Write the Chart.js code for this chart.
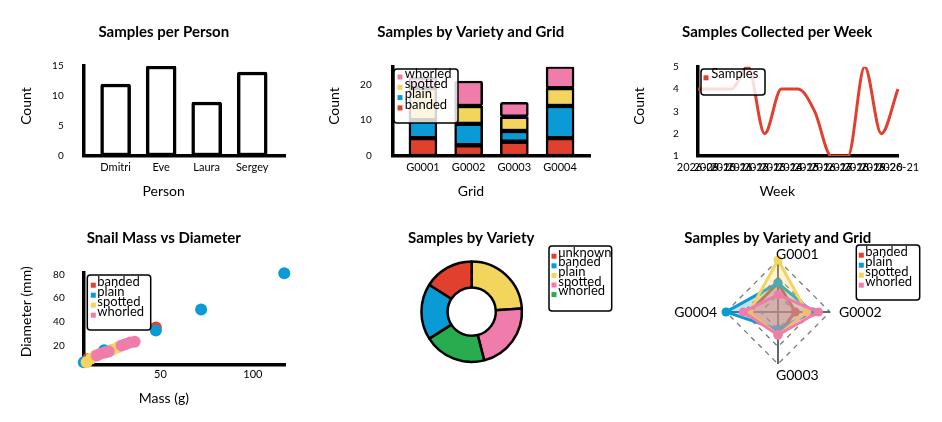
<!DOCTYPE html>
<html><head><meta charset="utf-8">
<script src="https://cdn.jsdelivr.net/npm/chart.js@4"></script>
<style>
html,body{margin:0;padding:0;background:#fff;width:942px;height:422px;overflow:hidden}
.cell{position:absolute;width:314px;height:211px}
canvas{display:block}
</style></head><body>
<div class="cell" style="left:0;top:0"><canvas id="c1" width="314" height="211"></canvas></div>
<div class="cell" style="left:314px;top:0"><canvas id="c2" width="314" height="211"></canvas></div>
<div class="cell" style="left:628px;top:0"><canvas id="c3" width="314" height="211"></canvas></div>
<div class="cell" style="left:0;top:211px"><canvas id="c4" width="314" height="211"></canvas></div>
<div class="cell" style="left:314px;top:211px"><canvas id="c5" width="314" height="211"></canvas></div>
<div class="cell" style="left:628px;top:211px"><canvas id="c6" width="314" height="211"></canvas></div>
<script>
// ---------- data ----------
const persons = ['Dmitri', 'Eve', 'Laura', 'Sergey'];
const personCounts = [12, 15, 9, 14];

const grids = ['G0001', 'G0002', 'G0003', 'G0004'];
const varieties = ['banded', 'plain', 'spotted', 'whorled'];
const bandedByGrid = [5, 3, 4, 5];
const plainByGrid = [5, 6, 3, 9];
const spottedByGrid = [9, 5, 4, 5];
const whorledByGrid = [3, 7, 4, 6];

const weeks = ['2026-09', '2026-10', '2026-11', '2026-12', '2026-13', '2026-14', '2026-15',
               '2026-16', '2026-17', '2026-18', '2026-19', '2026-20', '2026-21'];
const weeklyCounts = [4, 4, 4, 5, 2, 4, 4, 3, 1, 1, 5, 2, 4];

const bandedMass = [10.5, 47.5];
const bandedDiam = [9, 35.5];
const plainMass = [8.5, 19.5, 47.5, 72, 117];
const plainDiam = [6.5, 16.5, 33, 50.5, 81];
const spottedMass = [10, 12.5, 15, 20, 24, 27];
const spottedDiam = [6.5, 9.5, 12, 14.5, 17, 19];
const whorledMass = [15.5, 17.5, 20, 22, 29, 31, 33.5, 36];
const whorledDiam = [12, 13.5, 14.5, 15.5, 20.5, 21.5, 23, 23.5];
const massTicks = [50, 100];
const diamTicks = [20, 40, 60, 80];

const pieLabels = ['unknown', 'banded', 'plain', 'spotted', 'whorled'];
const pieCounts = [8, 9, 12, 11, 10];

// ---------- style ----------
const FONT = 'Lato, "DejaVu Sans", sans-serif';
const RED = '#e2402e', BLUE = '#0a9ad6', YELLOW = '#f3d45c', PINK = '#f07cac', GREEN = '#27ad4f';
const varietyColors = {banded: RED, plain: BLUE, spotted: YELLOW, whorled: PINK};
const pieColors = {unknown: RED, banded: BLUE, plain: YELLOW, spotted: PINK, whorled: GREEN};
Chart.defaults.font.family = FONT;
Chart.defaults.color = '#000';
Chart.defaults.animation = false;

function rgba(hex, a) {
  const n = parseInt(hex.slice(1), 16);
  return `rgba(${n >> 16},${(n >> 8) & 255},${n & 255},${a})`;
}
const AXIS_BORDER = {display: true, color: '#000', width: 3.5};

// Chart / axis titles drawn as canvas text at given spots
const texts = {
  id: 'texts',
  afterDraw(chart, args, o) {
    if (!o || !o.items) return;
    const ctx = chart.ctx;
    ctx.save();
    ctx.fillStyle = '#000';
    ctx.textAlign = 'center';
    ctx.textBaseline = 'middle';
    o.items.forEach(t => {
      ctx.font = (t.bold ? 'bold ' : '') + t.size + 'px ' + FONT;
      ctx.save();
      ctx.translate(t.x, t.y);
      if (t.rot) ctx.rotate(-Math.PI / 2);
      ctx.fillText(t.text, 0, 0);
      ctx.restore();
    });
    ctx.restore();
  }
};
function titles(main, mx, my, xt, xx, xy, yt, yx, yy) {
  const items = [{text: main, x: mx, y: my, size: 15, bold: true}];
  if (xt) items.push({text: xt, x: xx, y: xy, size: 14});
  if (yt) items.push({text: yt, x: yx, y: yy, size: 14, rot: true});
  return {items};
}

// Legend box plugin
const boxLegend = {
  id: 'boxLegend',
  afterDraw(chart, args, o) {
    if (!o || !o.items) return;
    const ctx = chart.ctx;
    ctx.save();
    ctx.beginPath();
    if (ctx.roundRect) ctx.roundRect(o.x, o.y, o.w, o.h, 3); else ctx.rect(o.x, o.y, o.w, o.h);
    ctx.fillStyle = 'rgba(255,255,255,0.82)';
    ctx.fill();
    ctx.lineWidth = 1.5;
    ctx.strokeStyle = '#000';
    ctx.stroke();
    ctx.font = '13px ' + FONT;
    ctx.textBaseline = 'middle';
    ctx.textAlign = 'left';
    o.items.forEach((it, i) => {
      const y = o.firstY + i * o.step;
      ctx.fillStyle = it.color;
      ctx.fillRect(o.markerX - 2.5, y + 1, 5, 5);
      ctx.fillStyle = '#000';
      ctx.fillText(it.label, o.textX, y);
    });
    ctx.restore();
  }
};
// Radar point labels plugin
const radarLabels = {
  id: 'radarLabels',
  afterDraw(chart, args, o) {
    if (!o || !o.labels) return;
    const s = chart.scales.r, ctx = chart.ctx;
    ctx.save();
    ctx.font = '14px ' + FONT;
    ctx.fillStyle = '#000';
    ctx.textBaseline = 'middle';
    o.labels.forEach((lab, i) => {
      const p = s.getPointPosition(i, s.drawingArea);
      const dx = p.x - s.xCenter, dy = p.y - s.yCenter;
      if (Math.abs(dx) < Math.abs(dy)) {
        ctx.textAlign = 'left';
        ctx.fillText(lab, p.x - 2, dy < 0 ? p.y - 6 : p.y + 11);
      } else if (dx > 0) {
        ctx.textAlign = 'left';
        ctx.fillText(lab, p.x + 9, p.y);
      } else {
        ctx.textAlign = 'right';
        ctx.fillText(lab, p.x - 9, p.y);
      }
    });
    ctx.restore();
  }
};
Chart.register(boxLegend, radarLabels, texts);

const noLegend = {legend: {display: false}, tooltip: {enabled: false}, title: {display: false}};

// ---------- 1: Samples per Person ----------
new Chart(document.getElementById('c1'), {
  type: 'bar',
  data: {datasets: [{
    data: persons.map((p, i) => ({x: i, y: personCounts[i]})),
    backgroundColor: '#fff', borderColor: '#000', borderWidth: 3.5,
    borderSkipped: false, borderRadius: 2, barThickness: 30
  }]},
  options: {
    responsive: false,
    layout: {padding: {left: 0, right: 29, top: 66, bottom: 0}},
    plugins: Object.assign({
      texts: titles('Samples per Person', 163.8, 31.7, 'Person', 163.7, 191, 'Count', 26.7, 106)
    }, noLegend),
    scales: {
      x: {type: 'linear', offset: false, min: -0.71, max: 3.72,
          grid: {display: false}, border: AXIS_BORDER,
          afterBuildTicks: s => { s.ticks = persons.map((p, i) => ({value: i})); },
          ticks: {callback: v => persons[v], font: {size: 11}, padding: -3.5, autoSkip: false, maxRotation: 0},
          afterFit: s => { s.height = 55; }},
      y: {min: 0, max: 15, grid: {display: false}, border: AXIS_BORDER,
          ticks: {stepSize: 5, font: {size: 10}, padding: 11.6},
          afterFit: s => { s.width = 83.3; }}
    }
  }
});

// ---------- 2: Samples by Variety and Grid (stacked) ----------
const gridSeries = {banded: bandedByGrid, plain: plainByGrid, spotted: spottedByGrid, whorled: whorledByGrid};
new Chart(document.getElementById('c2'), {
  type: 'bar',
  data: {datasets: varieties.map(v => ({
    label: v,
    data: grids.map((g, i) => ({x: i, y: gridSeries[v][i]})),
    backgroundColor: varietyColors[v], borderColor: '#000', borderWidth: 2.5,
    borderSkipped: false, borderRadius: 2, barThickness: 28
  }))},
  options: {
    responsive: false,
    layout: {padding: {left: 0, right: 37.3, top: 66.7, bottom: 0}},
    plugins: Object.assign({
      texts: titles('Samples by Variety and Grid', 156.8, 31.7, 'Grid', 157, 191.3, 'Count', 20, 106),
      boxLegend: {x: 80, y: 69, w: 64, h: 54, textX: 90.7, markerX: 86, firstY: 73.5, step: 10.3,
        items: varieties.slice().reverse().map(v => ({label: v, color: varietyColors[v]}))}
    }, noLegend),
    scales: {
      x: {type: 'linear', offset: false, stacked: true, min: -0.67, max: 3.67,
          grid: {display: false}, border: AXIS_BORDER,
          afterBuildTicks: s => { s.ticks = grids.map((g, i) => ({value: i})); },
          ticks: {callback: v => grids[v], font: {size: 11}, padding: -3.5, autoSkip: false, maxRotation: 0},
          afterFit: s => { s.height = 55; }},
      y: {stacked: true, min: 0, max: 25, grid: {display: false}, border: AXIS_BORDER,
          afterBuildTicks: s => { s.ticks = [0, 10, 20].map(v => ({value: v})); },
          ticks: {font: {size: 10}, padding: 12.6},
          afterFit: s => { s.width = 78.3; }}
    }
  }
});

// ---------- 3: Samples Collected per Week ----------
new Chart(document.getElementById('c3'), {
  type: 'line',
  data: {labels: weeks, datasets: [{
    label: 'Samples', data: weeklyCounts,
    borderColor: RED, borderWidth: 3, pointRadius: 0, fill: false,
    cubicInterpolationMode: 'monotone'
  }]},
  options: {
    responsive: false,
    layout: {padding: {left: 0, right: 44, top: 66.7, bottom: 0}},
    plugins: Object.assign({
      texts: titles('Samples Collected per Week', 149.2, 31.7, 'Week', 149.2, 191.7, 'Count', 11.7, 106),
      boxLegend: {x: 73, y: 69, w: 64, h: 26, textX: 83.3, markerX: 78, firstY: 74.3, step: 10.3,
        items: [{label: 'Samples', color: RED}]}
    }, noLegend),
    scales: {
      x: {offset: false, grid: {display: false}, border: AXIS_BORDER,
          ticks: {font: {size: 11}, padding: -3.5, autoSkip: false, maxRotation: 0, minRotation: 0},
          afterFit: s => { s.height = 55; }},
      y: {min: 1, max: 5, grid: {display: false}, border: AXIS_BORDER,
          ticks: {stepSize: 1, font: {size: 10}, padding: 11.3},
          afterFit: s => { s.width = 70; }}
    }
  }
});

// ---------- 4: Snail Mass vs Diameter ----------
const scatterSeries = {
  banded: [bandedMass, bandedDiam], plain: [plainMass, plainDiam],
  spotted: [spottedMass, spottedDiam], whorled: [whorledMass, whorledDiam]
};
new Chart(document.getElementById('c4'), {
  type: 'scatter',
  data: {datasets: varieties.map((v, k) => ({
    label: v,
    data: scatterSeries[v][0].map((m, i) => ({x: m, y: scatterSeries[v][1][i]})),
    backgroundColor: varietyColors[v], borderWidth: 0, pointRadius: 6, clip: false,
    order: varieties.length - k
  }))},
  options: {
    responsive: false,
    layout: {padding: {left: 0, right: 29, top: 61.7, bottom: 0}},
    plugins: Object.assign({
      texts: titles('Snail Mass vs Diameter', 163.8, 26.7, 'Mass (g)', 163.8, 187.7, 'Diameter (mm)', 26.7, 100.8),
      boxLegend: {x: 87.3, y: 64, w: 63.4, h: 55, textX: 97.3, markerX: 93.3, firstY: 70.7, step: 10,
        items: varieties.map(v => ({label: v, color: varietyColors[v]}))}
    }, noLegend),
    scales: {
      x: {type: 'linear', min: 8.6, max: 117.4, grid: {display: false}, border: AXIS_BORDER,
          afterBuildTicks: s => { s.ticks = massTicks.map(v => ({value: v})); },
          ticks: {font: {size: 11}, padding: -4.8},
          afterFit: s => { s.height = 57.7; }},
      y: {type: 'linear', min: 4.7, max: 81.4, grid: {display: false}, border: AXIS_BORDER,
          afterBuildTicks: s => { s.ticks = diamTicks.map(v => ({value: v})); },
          ticks: {font: {size: 10}, padding: 11.3},
          afterFit: s => { s.width = 84; }}
    }
  }
});

// ---------- 5: Samples by Variety (doughnut) ----------
const pieOrder = pieLabels.map((l, i) => i).sort((a, b) => pieCounts[b] - pieCounts[a]);
new Chart(document.getElementById('c5'), {
  type: 'doughnut',
  data: {
    labels: pieOrder.map(i => pieLabels[i]),
    datasets: [{
      data: pieOrder.map(i => pieCounts[i]),
      backgroundColor: pieOrder.map(i => pieColors[pieLabels[i]]),
      borderColor: '#000', borderWidth: 2.5
    }]
  },
  options: {
    responsive: false, cutout: '48%',
    layout: {padding: {left: 57.7, right: 56.3, top: 49.2, bottom: 58.8}},
    plugins: Object.assign({
      texts: titles('Samples by Variety', 157.2, 27.3),
      boxLegend: {x: 235, y: 35, w: 62.7, h: 65, textX: 244.3, markerX: 240, firstY: 41.7, step: 9.6,
        items: pieLabels.map(l => ({label: l, color: pieColors[l]}))}
    }, noLegend)
  }
});

// ---------- 6: Samples by Variety and Grid (radar) ----------
new Chart(document.getElementById('c6'), {
  type: 'radar',
  data: {labels: grids, datasets: varieties.map((v, k) => ({
    label: v, data: gridSeries[v],
    borderColor: varietyColors[v], backgroundColor: rgba(varietyColors[v], 0.28),
    borderWidth: 3, pointRadius: 4.5, pointBackgroundColor: varietyColors[v], pointBorderWidth: 0,
    fill: true, order: varieties.length - k
  }))},
  options: {
    responsive: false,
    layout: {padding: {left: 40, right: 54, top: 49, bottom: 58}},
    plugins: Object.assign({
      texts: titles('Samples by Variety and Grid', 149.8, 26.7),
      radarLabels: {labels: grids},
      boxLegend: {x: 228.3, y: 34, w: 63.4, h: 55, textX: 237.3, markerX: 233.3, firstY: 40.7, step: 10,
        items: varieties.map(v => ({label: v, color: varietyColors[v]}))}
    }, noLegend),
    scales: {
      r: {min: 0, max: 9, ticks: {display: false, stepSize: 3},
          pointLabels: {display: false},
          angleLines: {color: '#666', lineWidth: 2},
          grid: {color: '#777', lineWidth: 1.3},
          border: {dash: [5, 5]}}
    }
  }
});
</script>
</body></html>
